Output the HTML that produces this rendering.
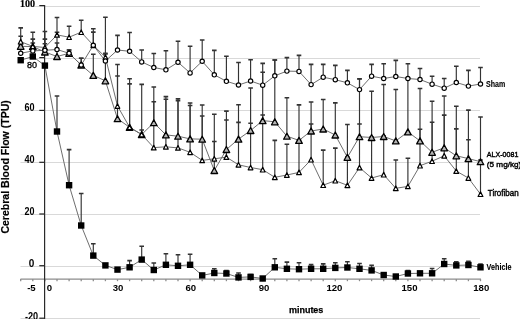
<!DOCTYPE html>
<html><head><meta charset="utf-8"><title>Cerebral Blood Flow</title>
<style>html,body{margin:0;padding:0;background:#fff;overflow:hidden}svg{display:block;will-change:transform}</style>
</head><body>
<svg width="520" height="319" viewBox="0 0 520 319">
<rect width="520" height="319" fill="#fff"/>
<g stroke="#d9d9d9" stroke-width="1.2"><line x1="20.5" x2="480" y1="6.5" y2="6.5"/><line x1="20.5" x2="480" y1="58.5" y2="58.5"/><line x1="20.5" x2="480" y1="110.5" y2="110.5"/><line x1="20.5" x2="480" y1="162.5" y2="162.5"/><line x1="20.5" x2="480" y1="214.5" y2="214.5"/><line x1="20.5" x2="480" y1="266.5" y2="266.5"/><line x1="20.5" x2="480" y1="318.5" y2="318.5"/></g>
<g stroke="#8c8c8c" stroke-width="1.3"><line x1="20.7" x2="20.7" y1="279.1" y2="281.2"/><line x1="32.8" x2="32.8" y1="279.1" y2="281.2"/><line x1="44.9" x2="44.9" y1="279.1" y2="281.2"/><line x1="57.0" x2="57.0" y1="279.1" y2="281.2"/><line x1="69.1" x2="69.1" y1="279.1" y2="281.2"/><line x1="81.2" x2="81.2" y1="279.1" y2="281.2"/><line x1="93.3" x2="93.3" y1="279.1" y2="281.2"/><line x1="105.4" x2="105.4" y1="279.1" y2="281.2"/><line x1="117.5" x2="117.5" y1="279.1" y2="281.2"/><line x1="129.6" x2="129.6" y1="279.1" y2="281.2"/><line x1="141.7" x2="141.7" y1="279.1" y2="281.2"/><line x1="153.8" x2="153.8" y1="279.1" y2="281.2"/><line x1="165.9" x2="165.9" y1="279.1" y2="281.2"/><line x1="178.0" x2="178.0" y1="279.1" y2="281.2"/><line x1="190.1" x2="190.1" y1="279.1" y2="281.2"/><line x1="202.2" x2="202.2" y1="279.1" y2="281.2"/><line x1="214.3" x2="214.3" y1="279.1" y2="281.2"/><line x1="226.4" x2="226.4" y1="279.1" y2="281.2"/><line x1="238.5" x2="238.5" y1="279.1" y2="281.2"/><line x1="250.6" x2="250.6" y1="279.1" y2="281.2"/><line x1="262.7" x2="262.7" y1="279.1" y2="281.2"/><line x1="274.8" x2="274.8" y1="279.1" y2="281.2"/><line x1="286.9" x2="286.9" y1="279.1" y2="281.2"/><line x1="299.0" x2="299.0" y1="279.1" y2="281.2"/><line x1="311.1" x2="311.1" y1="279.1" y2="281.2"/><line x1="323.2" x2="323.2" y1="279.1" y2="281.2"/><line x1="335.3" x2="335.3" y1="279.1" y2="281.2"/><line x1="347.4" x2="347.4" y1="279.1" y2="281.2"/><line x1="359.5" x2="359.5" y1="279.1" y2="281.2"/><line x1="371.6" x2="371.6" y1="279.1" y2="281.2"/><line x1="383.7" x2="383.7" y1="279.1" y2="281.2"/><line x1="395.8" x2="395.8" y1="279.1" y2="281.2"/><line x1="407.9" x2="407.9" y1="279.1" y2="281.2"/><line x1="420.0" x2="420.0" y1="279.1" y2="281.2"/><line x1="432.1" x2="432.1" y1="279.1" y2="281.2"/><line x1="444.2" x2="444.2" y1="279.1" y2="281.2"/><line x1="456.3" x2="456.3" y1="279.1" y2="281.2"/><line x1="468.4" x2="468.4" y1="279.1" y2="281.2"/><line x1="480.5" x2="480.5" y1="279.1" y2="281.2"/><line x1="20.5" x2="481" y1="279.1" y2="279.1"/></g>
<g stroke="#222" stroke-width="1.2"><line x1="39.3" x2="44.6" y1="5.6" y2="5.6"/><line x1="39.3" x2="44.6" y1="57.6" y2="57.6"/><line x1="39.3" x2="44.6" y1="110.4" y2="110.4"/><line x1="39.3" x2="44.6" y1="162.3" y2="162.3"/><line x1="39.3" x2="44.6" y1="214.0" y2="214.0"/><line x1="39.3" x2="44.6" y1="265.7" y2="265.7"/><line x1="39.3" x2="44.6" y1="318.2" y2="318.2"/></g>
<line x1="44.6" x2="44.6" y1="5" y2="319" stroke="#2a2a2a" stroke-width="1.2"/>
<polyline points="20.7,60.2 32.8,56.5 44.9,65.6 57.0,131.5 69.1,185.2 81.2,225.5 93.3,255.6 105.4,265.4 117.5,269.6 129.6,267.3 141.7,259.6 153.8,270.0 165.9,264.8 178.0,265.8 190.1,264.8 202.2,275.4 214.3,273.0 226.4,273.5 238.5,277.4 250.6,276.9 262.7,278.5 274.8,267.3 286.9,268.8 299.0,269.2 311.1,268.8 323.2,268.8 335.3,267.9 347.4,267.5 359.5,268.8 371.6,270.4 383.7,275.0 395.8,276.5 407.9,273.5 420.0,273.3 432.1,273.3 444.2,264.0 456.3,265.4 468.4,265.0 480.5,267.3" fill="none" stroke="#666" stroke-width="0.95"/><polyline points="20.7,53.3 32.8,50.9 44.9,50.3 57.0,49.5 69.1,53.3 81.2,65.0 93.3,45.3 105.4,61.0 117.5,50.0 129.6,51.3 141.7,61.9 153.8,67.5 165.9,69.8 178.0,62.3 190.1,72.9 202.2,61.3 214.3,74.8 226.4,81.3 238.5,85.0 250.6,81.0 262.7,85.2 274.8,75.8 286.9,71.1 299.0,71.4 311.1,84.6 323.2,77.2 335.3,79.7 347.4,82.8 359.5,89.6 371.6,76.2 383.7,78.5 395.8,76.5 407.9,78.5 420.0,79.5 432.1,84.2 444.2,88.2 456.3,82.5 468.4,86.1 480.5,84.0" fill="none" stroke="#666" stroke-width="0.95"/><polyline points="20.7,46.3 32.8,46.6 44.9,52.0 57.0,56.5 69.1,53.3 81.2,65.0 93.3,75.4 105.4,80.8 117.5,118.7 129.6,127.3 141.7,134.5 153.8,122.7 165.9,134.9 178.0,136.2 190.1,138.9 202.2,139.2 214.3,170.5 226.4,149.5 238.5,139.1 250.6,130.5 262.7,120.6 274.8,121.8 286.9,136.2 299.0,140.4 311.1,131.0 323.2,129.0 335.3,135.0 347.4,157.3 359.5,136.7 371.6,137.5 383.7,136.5 395.8,140.9 407.9,131.9 420.0,140.9 432.1,152.3 444.2,147.8 456.3,155.8 468.4,158.6 480.5,161.7" fill="none" stroke="#666" stroke-width="0.95"/><polyline points="20.7,41.7 32.8,46.4 44.9,47.5 57.0,34.9 69.1,37.2 81.2,32.2 93.3,45.3 105.4,57.1 117.5,106.0 129.6,127.3 141.7,134.5 153.8,147.6 165.9,146.8 178.0,147.9 190.1,152.3 202.2,160.4 214.3,158.8 226.4,157.1 238.5,164.8 250.6,167.5 262.7,169.7 274.8,177.3 286.9,175.0 299.0,172.4 311.1,159.7 323.2,185.2 335.3,180.7 347.4,185.3 359.5,167.6 371.6,178.0 383.7,174.7 395.8,188.3 407.9,186.4 420.0,165.7 432.1,161.2 444.2,155.8 456.3,171.1 468.4,178.0 480.5,194.2" fill="none" stroke="#666" stroke-width="0.95"/>
<path stroke="#333" stroke-width="1.15" fill="none" d="M57.0 131.5V96.0M69.1 185.2V149.6M81.2 225.5V193.5M93.3 255.6V243.8M129.6 267.3V260.6M141.7 259.6V246.2M153.8 270.0V263.0M165.9 264.8V253.8M178.0 265.8V254.8M190.1 264.8V254.2M214.3 273.0V268.7M226.4 273.5V270.6M238.5 277.4V273.0M250.6 276.9V274.6M274.8 267.3V258.8M286.9 268.8V262.1M299.0 269.2V262.7M311.1 268.8V264.6M323.2 268.8V263.9M335.3 267.9V262.7M347.4 267.5V261.7M359.5 268.8V263.5M371.6 270.4V265.4M407.9 273.5V270.6M432.1 273.3V268.5M444.2 264.0V258.8M456.3 265.4V261.7M468.4 265.0V261.2M480.5 267.3V264.0"/><path stroke="#333" stroke-width="1.6" fill="none" d="M54.7 96.0h4.6M66.8 149.6h4.6M78.9 193.5h4.6M91.0 243.8h4.6M127.3 260.6h4.6M139.4 246.2h4.6M151.5 263.0h4.6M163.6 253.8h4.6M175.7 254.8h4.6M187.8 254.2h4.6M212.0 268.7h4.6M224.1 270.6h4.6M236.2 273.0h4.6M248.3 274.6h4.6M272.5 258.8h4.6M284.6 262.1h4.6M296.7 262.7h4.6M308.8 264.6h4.6M320.9 263.9h4.6M333.0 262.7h4.6M345.1 261.7h4.6M357.2 263.5h4.6M369.3 265.4h4.6M405.6 270.6h4.6M429.8 268.5h4.6M441.9 258.8h4.6M454.0 261.7h4.6M466.1 261.2h4.6M478.2 264.0h4.6"/><path stroke="#333" stroke-width="1.15" fill="none" d="M20.7 53.3V45.0M32.8 50.9V43.0M44.9 50.3V43.7M57.0 49.5V43.0M69.1 53.3V50.0M81.2 65.0V58.2M93.3 45.3V32.1M105.4 61.0V54.0M117.5 50.0V35.4M129.6 51.3V32.5M141.7 61.9V50.0M153.8 67.5V53.5M165.9 69.8V50.8M178.0 62.3V41.2M190.1 72.9V46.2M202.2 61.3V40.0M214.3 74.8V50.4M226.4 81.3V56.3M238.5 85.0V62.5M250.6 81.0V59.7M262.7 85.2V63.4M274.8 75.8V60.0M286.9 71.1V57.6M299.0 71.4V55.4M311.1 84.6V64.4M323.2 77.2V64.4M335.3 79.7V65.4M347.4 82.8V70.4M359.5 89.6V78.8M371.6 76.2V64.4M383.7 78.5V63.7M395.8 76.5V60.4M407.9 78.5V63.7M420.0 79.5V68.5M432.1 84.2V76.3M444.2 88.2V78.5M456.3 82.5V66.2M468.4 86.1V70.4M480.5 84.0V67.5"/><path stroke="#333" stroke-width="1.6" fill="none" d="M18.4 45.0h4.6M30.5 43.0h4.6M42.6 43.7h4.6M54.7 43.0h4.6M66.8 50.0h4.6M78.9 58.2h4.6M91.0 32.1h4.6M103.1 54.0h4.6M115.2 35.4h4.6M127.3 32.5h4.6M139.4 50.0h4.6M151.5 53.5h4.6M163.6 50.8h4.6M175.7 41.2h4.6M187.8 46.2h4.6M199.9 40.0h4.6M212.0 50.4h4.6M224.1 56.3h4.6M236.2 62.5h4.6M248.3 59.7h4.6M260.4 63.4h4.6M272.5 60.0h4.6M284.6 57.6h4.6M296.7 55.4h4.6M308.8 64.4h4.6M320.9 64.4h4.6M333.0 65.4h4.6M345.1 70.4h4.6M357.2 78.8h4.6M369.3 64.4h4.6M381.4 63.7h4.6M393.5 60.4h4.6M405.6 63.7h4.6M417.7 68.5h4.6M429.8 76.3h4.6M441.9 78.5h4.6M454.0 66.2h4.6M466.1 70.4h4.6M478.2 67.5h4.6"/><path stroke="#333" stroke-width="1.15" fill="none" d="M20.7 46.3V36.2M32.8 46.6V39.1M44.9 52.0V39.1M57.0 56.5V32.3M69.1 53.3V50.0M81.2 65.0V58.2M93.3 75.4V54.2M105.4 80.8V53.4M117.5 118.7V64.5M129.6 127.3V78.7M141.7 134.5V84.4M153.8 122.7V87.0M165.9 134.9V96.6M178.0 136.2V98.9M190.1 138.9V103.0M202.2 139.2V105.0M214.3 170.5V141.5M226.4 149.5V111.1M238.5 139.1V104.8M250.6 130.5V88.0M262.7 120.6V72.3M274.8 121.8V60.0M286.9 136.2V97.7M299.0 140.4V104.9M311.1 131.0V102.0M323.2 129.0V99.5M335.3 135.0V102.9M347.4 157.3V124.5M359.5 136.7V79.0M371.6 137.5V91.2M383.7 136.5V84.5M395.8 140.9V89.5M407.9 131.9V78.0M420.0 140.9V88.5M432.1 152.3V101.2M444.2 147.8V96.0M456.3 155.8V106.3M468.4 158.6V110.1M480.5 161.7V117.0"/><path stroke="#333" stroke-width="1.6" fill="none" d="M18.4 36.2h4.6M30.5 39.1h4.6M42.6 39.1h4.6M54.7 32.3h4.6M66.8 50.0h4.6M78.9 58.2h4.6M91.0 54.2h4.6M103.1 53.4h4.6M115.2 64.5h4.6M127.3 78.7h4.6M139.4 84.4h4.6M151.5 87.0h4.6M163.6 96.6h4.6M175.7 98.9h4.6M187.8 103.0h4.6M199.9 105.0h4.6M212.0 141.5h4.6M224.1 111.1h4.6M236.2 104.8h4.6M248.3 88.0h4.6M260.4 72.3h4.6M272.5 60.0h4.6M284.6 97.7h4.6M296.7 104.9h4.6M308.8 102.0h4.6M320.9 99.5h4.6M333.0 102.9h4.6M345.1 124.5h4.6M357.2 79.0h4.6M369.3 91.2h4.6M381.4 84.5h4.6M393.5 89.5h4.6M405.6 78.0h4.6M417.7 88.5h4.6M429.8 101.2h4.6M441.9 96.0h4.6M454.0 106.3h4.6M466.1 110.1h4.6M478.2 117.0h4.6"/><path stroke="#333" stroke-width="1.15" fill="none" d="M20.7 41.7V27.9M32.8 46.4V32.3M44.9 47.5V31.5M57.0 34.9V17.5M69.1 37.2V26.3M81.2 32.2V20.3M93.3 45.3V28.7M105.4 57.1V17.3M117.5 106.0V76.0M129.6 127.3V83.9M141.7 134.5V130.0M153.8 147.6V101.7M165.9 146.8V99.3M178.0 147.9V100.8M190.1 152.3V105.5M202.2 160.4V116.0M214.3 158.8V114.2M226.4 157.1V120.0M238.5 164.8V122.4M250.6 167.5V123.3M262.7 169.7V115.0M274.8 177.3V140.4M286.9 175.0V144.2M299.0 172.4V140.0M311.1 159.7V124.0M323.2 185.2V150.1M335.3 180.7V148.1M347.4 185.3V157.0M359.5 167.6V124.0M371.6 178.0V137.0M383.7 174.7V136.0M395.8 188.3V160.0M407.9 186.4V158.2M420.0 165.7V129.2M432.1 161.2V122.3M444.2 155.8V115.1M456.3 171.1V128.9M468.4 178.0V139.7M480.5 194.2V160.0"/><path stroke="#333" stroke-width="1.6" fill="none" d="M18.4 27.9h4.6M30.5 32.3h4.6M42.6 31.5h4.6M54.7 17.5h4.6M66.8 26.3h4.6M78.9 20.3h4.6M91.0 28.7h4.6M103.1 17.3h4.6M115.2 76.0h4.6M127.3 83.9h4.6M139.4 130.0h4.6M151.5 101.7h4.6M163.6 99.3h4.6M175.7 100.8h4.6M187.8 105.5h4.6M199.9 116.0h4.6M212.0 114.2h4.6M224.1 120.0h4.6M236.2 122.4h4.6M248.3 123.3h4.6M260.4 115.0h4.6M272.5 140.4h4.6M284.6 144.2h4.6M296.7 140.0h4.6M308.8 124.0h4.6M320.9 150.1h4.6M333.0 148.1h4.6M345.1 157.0h4.6M357.2 124.0h4.6M369.3 137.0h4.6M381.4 136.0h4.6M393.5 160.0h4.6M405.6 158.2h4.6M417.7 129.2h4.6M429.8 122.3h4.6M441.9 115.1h4.6M454.0 128.9h4.6M466.1 139.7h4.6M478.2 160.0h4.6"/>
<g fill="#000"><rect x="17.5" y="57.0" width="6.4" height="6.4"/><rect x="29.6" y="53.3" width="6.4" height="6.4"/><rect x="41.7" y="62.4" width="6.4" height="6.4"/><rect x="53.8" y="128.3" width="6.4" height="6.4"/><rect x="65.9" y="182.0" width="6.4" height="6.4"/><rect x="78.0" y="222.3" width="6.4" height="6.4"/><rect x="90.1" y="252.4" width="6.4" height="6.4"/><rect x="102.2" y="262.2" width="6.4" height="6.4"/><rect x="114.3" y="266.4" width="6.4" height="6.4"/><rect x="126.4" y="264.1" width="6.4" height="6.4"/><rect x="138.5" y="256.4" width="6.4" height="6.4"/><rect x="150.6" y="266.8" width="6.4" height="6.4"/><rect x="162.7" y="261.6" width="6.4" height="6.4"/><rect x="174.8" y="262.6" width="6.4" height="6.4"/><rect x="186.9" y="261.6" width="6.4" height="6.4"/><rect x="199.0" y="272.2" width="6.4" height="6.4"/><rect x="211.1" y="269.8" width="6.4" height="6.4"/><rect x="223.2" y="270.3" width="6.4" height="6.4"/><rect x="235.3" y="274.2" width="6.4" height="6.4"/><rect x="247.4" y="273.7" width="6.4" height="6.4"/><rect x="259.5" y="275.3" width="6.4" height="6.4"/><rect x="271.6" y="264.1" width="6.4" height="6.4"/><rect x="283.7" y="265.6" width="6.4" height="6.4"/><rect x="295.8" y="266.0" width="6.4" height="6.4"/><rect x="307.9" y="265.6" width="6.4" height="6.4"/><rect x="320.0" y="265.6" width="6.4" height="6.4"/><rect x="332.1" y="264.7" width="6.4" height="6.4"/><rect x="344.2" y="264.3" width="6.4" height="6.4"/><rect x="356.3" y="265.6" width="6.4" height="6.4"/><rect x="368.4" y="267.2" width="6.4" height="6.4"/><rect x="380.5" y="271.8" width="6.4" height="6.4"/><rect x="392.6" y="273.3" width="6.4" height="6.4"/><rect x="404.7" y="270.3" width="6.4" height="6.4"/><rect x="416.8" y="270.1" width="6.4" height="6.4"/><rect x="428.9" y="270.1" width="6.4" height="6.4"/><rect x="441.0" y="260.8" width="6.4" height="6.4"/><rect x="453.1" y="262.2" width="6.4" height="6.4"/><rect x="465.2" y="261.8" width="6.4" height="6.4"/><rect x="477.3" y="264.1" width="6.4" height="6.4"/></g>
<g fill="#b5b5b5" stroke="#000" stroke-width="1.3" stroke-linejoin="round"><path d="M20.7 43.3L24.0 49.3H17.4Z"/><path d="M32.8 43.6L36.1 49.6H29.5Z"/><path d="M44.9 49.0L48.2 55.0H41.6Z"/><path d="M57.0 53.5L60.3 59.5H53.7Z"/><path d="M69.1 50.3L72.4 56.3H65.8Z"/><path d="M81.2 62.0L84.5 68.0H77.9Z"/><path d="M93.3 72.4L96.6 78.4H90.0Z"/><path d="M105.4 77.8L108.7 83.8H102.1Z"/><path d="M117.5 115.7L120.8 121.7H114.2Z"/><path d="M129.6 124.3L132.9 130.3H126.3Z"/><path d="M141.7 131.5L145.0 137.5H138.4Z"/><path d="M153.8 119.7L157.1 125.7H150.5Z"/><path d="M165.9 131.9L169.2 137.9H162.6Z"/><path d="M178.0 133.2L181.3 139.2H174.7Z"/><path d="M190.1 135.9L193.4 141.9H186.8Z"/><path d="M202.2 136.2L205.5 142.2H198.9Z"/><path d="M214.3 167.5L217.6 173.5H211.0Z"/><path d="M226.4 146.5L229.7 152.5H223.1Z"/><path d="M238.5 136.1L241.8 142.1H235.2Z"/><path d="M250.6 127.5L253.9 133.5H247.3Z"/><path d="M262.7 117.6L266.0 123.6H259.4Z"/><path d="M274.8 118.8L278.1 124.8H271.5Z"/><path d="M286.9 133.2L290.2 139.2H283.6Z"/><path d="M299.0 137.4L302.3 143.4H295.7Z"/><path d="M311.1 128.0L314.4 134.0H307.8Z"/><path d="M323.2 126.0L326.5 132.0H319.9Z"/><path d="M335.3 132.0L338.6 138.0H332.0Z"/><path d="M347.4 154.3L350.7 160.3H344.1Z"/><path d="M359.5 133.7L362.8 139.7H356.2Z"/><path d="M371.6 134.5L374.9 140.5H368.3Z"/><path d="M383.7 133.5L387.0 139.5H380.4Z"/><path d="M395.8 137.9L399.1 143.9H392.5Z"/><path d="M407.9 128.9L411.2 134.9H404.6Z"/><path d="M420.0 137.9L423.3 143.9H416.7Z"/><path d="M432.1 149.3L435.4 155.3H428.8Z"/><path d="M444.2 144.8L447.5 150.8H440.9Z"/><path d="M456.3 152.8L459.6 158.8H453.0Z"/><path d="M468.4 155.6L471.7 161.6H465.1Z"/><path d="M480.5 158.7L483.8 164.7H477.2Z"/></g>
<g fill="#fff" stroke="#000" stroke-width="1.2" stroke-linejoin="round"><path d="M20.7 39.4L23.1 44.0H18.3Z"/><path d="M32.8 44.1L35.1 48.7H30.4Z"/><path d="M44.9 45.2L47.2 49.8H42.5Z"/><path d="M57.0 32.6L59.4 37.2H54.6Z"/><path d="M69.1 34.9L71.4 39.5H66.8Z"/><path d="M81.2 29.9L83.5 34.5H78.9Z"/><path d="M93.3 43.0L95.6 47.6H91.0Z"/><path d="M105.4 54.8L107.8 59.4H103.1Z"/><path d="M117.5 103.7L119.8 108.3H115.2Z"/><path d="M129.6 125.0L131.9 129.6H127.2Z"/><path d="M141.7 132.2L144.0 136.8H139.3Z"/><path d="M153.8 145.3L156.1 149.9H151.4Z"/><path d="M165.9 144.5L168.2 149.1H163.5Z"/><path d="M178.0 145.6L180.3 150.2H175.6Z"/><path d="M190.1 150.0L192.4 154.6H187.8Z"/><path d="M202.2 158.1L204.5 162.7H199.8Z"/><path d="M214.3 156.5L216.6 161.1H211.9Z"/><path d="M226.4 154.8L228.7 159.4H224.0Z"/><path d="M238.5 162.5L240.8 167.1H236.1Z"/><path d="M250.6 165.2L252.9 169.8H248.2Z"/><path d="M262.7 167.4L265.1 172.0H260.3Z"/><path d="M274.8 175.0L277.2 179.6H272.4Z"/><path d="M286.9 172.7L289.2 177.3H284.5Z"/><path d="M299.0 170.1L301.4 174.7H296.6Z"/><path d="M311.1 157.4L313.4 162.0H308.7Z"/><path d="M323.2 182.9L325.6 187.5H320.8Z"/><path d="M335.3 178.4L337.6 183.0H332.9Z"/><path d="M347.4 183.0L349.8 187.6H345.0Z"/><path d="M359.5 165.3L361.9 169.9H357.1Z"/><path d="M371.6 175.7L373.9 180.3H369.2Z"/><path d="M383.7 172.4L386.1 177.0H381.3Z"/><path d="M395.8 186.0L398.1 190.6H393.4Z"/><path d="M407.9 184.1L410.2 188.7H405.5Z"/><path d="M420.0 163.4L422.4 168.0H417.6Z"/><path d="M432.1 158.9L434.4 163.5H429.7Z"/><path d="M444.2 153.5L446.6 158.1H441.8Z"/><path d="M456.3 168.8L458.6 173.4H453.9Z"/><path d="M468.4 175.7L470.8 180.3H466.0Z"/><path d="M480.5 191.9L482.9 196.5H478.1Z"/></g>
<g fill="#fff" stroke="#000" stroke-width="1.15"><circle cx="20.7" cy="53.3" r="2.15"/><circle cx="32.8" cy="50.9" r="2.15"/><circle cx="44.9" cy="50.3" r="2.15"/><circle cx="57.0" cy="49.5" r="2.15"/><circle cx="69.1" cy="53.3" r="2.15"/><circle cx="81.2" cy="65.0" r="2.15"/><circle cx="93.3" cy="45.3" r="2.15"/><circle cx="105.4" cy="61.0" r="2.15"/><circle cx="117.5" cy="50.0" r="2.15"/><circle cx="129.6" cy="51.3" r="2.15"/><circle cx="141.7" cy="61.9" r="2.15"/><circle cx="153.8" cy="67.5" r="2.15"/><circle cx="165.9" cy="69.8" r="2.15"/><circle cx="178.0" cy="62.3" r="2.15"/><circle cx="190.1" cy="72.9" r="2.15"/><circle cx="202.2" cy="61.3" r="2.15"/><circle cx="214.3" cy="74.8" r="2.15"/><circle cx="226.4" cy="81.3" r="2.15"/><circle cx="238.5" cy="85.0" r="2.15"/><circle cx="250.6" cy="81.0" r="2.15"/><circle cx="262.7" cy="85.2" r="2.15"/><circle cx="274.8" cy="75.8" r="2.15"/><circle cx="286.9" cy="71.1" r="2.15"/><circle cx="299.0" cy="71.4" r="2.15"/><circle cx="311.1" cy="84.6" r="2.15"/><circle cx="323.2" cy="77.2" r="2.15"/><circle cx="335.3" cy="79.7" r="2.15"/><circle cx="347.4" cy="82.8" r="2.15"/><circle cx="359.5" cy="89.6" r="2.15"/><circle cx="371.6" cy="76.2" r="2.15"/><circle cx="383.7" cy="78.5" r="2.15"/><circle cx="395.8" cy="76.5" r="2.15"/><circle cx="407.9" cy="78.5" r="2.15"/><circle cx="420.0" cy="79.5" r="2.15"/><circle cx="432.1" cy="84.2" r="2.15"/><circle cx="444.2" cy="88.2" r="2.15"/><circle cx="456.3" cy="82.5" r="2.15"/><circle cx="468.4" cy="86.1" r="2.15"/><circle cx="480.5" cy="84.0" r="2.15"/></g>
<g font-family="Liberation Sans, sans-serif" font-weight="bold" fill="#000">
<g font-size="10.6" text-anchor="end" lengthAdjust="spacingAndGlyphs">
<text x="34.6" y="110.8" textLength="10.1" lengthAdjust="spacingAndGlyphs">60</text>
<text x="34.6" y="162.8" textLength="10.2" lengthAdjust="spacingAndGlyphs">40</text>
<text x="34.6" y="214.7" textLength="10" lengthAdjust="spacingAndGlyphs">20</text>
<text x="34.3" y="267.3" font-size="10">0</text>
<text x="38.1" y="320" textLength="13.2" lengthAdjust="spacingAndGlyphs">-20</text>
</g>
<g font-size="9.6" text-anchor="middle">
<text x="31.4" y="290.6">-5</text>
<text x="49.4" y="290.6">0</text>
<text x="118" y="290.6">30</text>
<text x="190.8" y="290.6">60</text>
<text x="264" y="291">90</text>
<text x="334.4" y="291">120</text>
<text x="409.5" y="291.1">150</text>
<text x="481.3" y="291.1">180</text>
</g>
<text x="37.1" y="67.6" text-anchor="end" font-weight="normal" font-size="9.9" stroke="#000" stroke-width="0.35" textLength="10" lengthAdjust="spacingAndGlyphs">80</text>
<text x="35.1" y="6.9" text-anchor="end" font-family="Liberation Serif, serif" font-weight="bold" font-size="11" stroke="#000" stroke-width="0.15" textLength="15.2" lengthAdjust="spacingAndGlyphs">100</text>
<g font-weight="normal" stroke="#000" stroke-width="0.4">
<text x="486.0" y="86.5" font-size="8.6" font-weight="bold" stroke-width="0.1" textLength="19.2" lengthAdjust="spacingAndGlyphs">Sham</text>
<text x="486.8" y="156.8" font-size="7.4" textLength="31.6" lengthAdjust="spacingAndGlyphs">ALX-0081</text>
<text x="486.8" y="166.5" font-size="7.7" textLength="34.5" lengthAdjust="spacingAndGlyphs">(5 mg/kg)</text>
<text x="487.8" y="196.3" font-size="8.3" textLength="30.8" lengthAdjust="spacingAndGlyphs">Tirofiban</text>
<text x="486.6" y="269.7" font-size="8.8" font-weight="bold" stroke-width="0.1" textLength="24.8" lengthAdjust="spacingAndGlyphs">Vehicle</text>
</g>
<text x="288.9" y="312.6" textLength="34.5" lengthAdjust="spacingAndGlyphs" font-size="9.6" stroke="#000" stroke-width="0.25">minutes</text>
<text transform="translate(8.8,233.6) rotate(-90)" textLength="133.4" lengthAdjust="spacingAndGlyphs" font-size="11.2" stroke="#000" stroke-width="0.2">Cerebral Blood Flow (TPU)</text>
</g>
</svg>
</body></html>
